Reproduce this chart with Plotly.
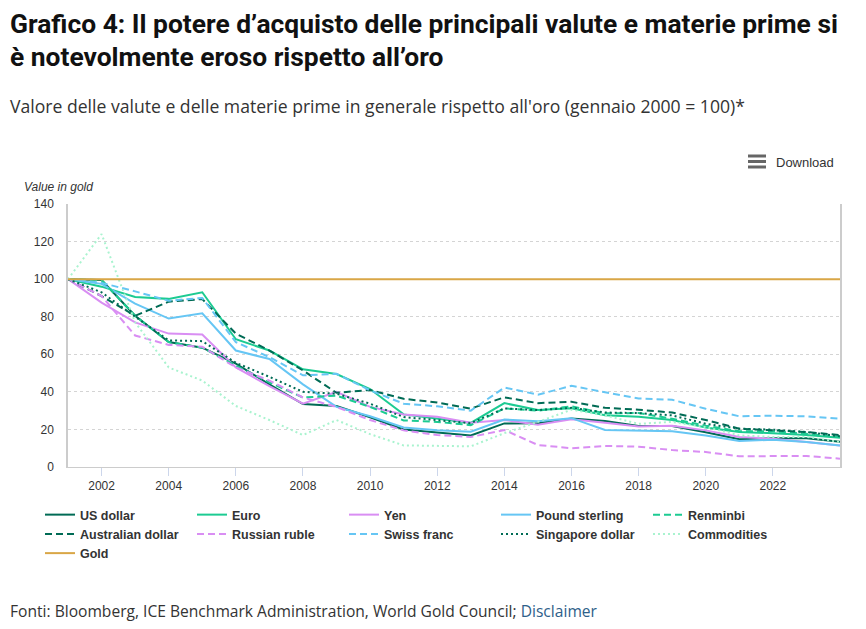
import plotly.graph_objects as go

years = list(range(2001, 2025))
x_ticks = [2002, 2004, 2006, 2008, 2010, 2012, 2014, 2016, 2018, 2020, 2022]
y_ticks = [0, 20, 40, 60, 80, 100, 120, 140]

us_dollar = [100, 99.5, 80.5, 66.5, 63.5, 55, 44, 33.5, 32.5, 26.5, 20, 18.3, 16.8, 23.2, 23.3, 25.8, 24.5, 21.8, 21.8, 18.5, 14.8, 15.3, 15.3, 13.5]
euro = [100, 96, 90.5, 89.5, 93, 68, 62, 52, 49.5, 41.5, 28, 25.7, 23.5, 34, 30.3, 31.3, 27.6, 26.7, 25, 21, 18.6, 18, 17, 15.6]
yen = [100, 87.5, 77, 71, 70.5, 53, 43, 33.7, 40, 32, 28, 26.8, 23.5, 25, 22.5, 25.4, 23.5, 21.5, 22, 19.5, 16, 15, 13.3, 11.5]
pound_sterling = [100, 97.5, 87, 79, 81.8, 62, 57.5, 44, 32, 27, 21, 19.5, 18.8, 25.3, 24.3, 26, 19.7, 19.5, 19, 16.8, 13.8, 14.5, 13.3, 11.5]
renminbi = [100, 99.5, 80.5, 66.5, 63.5, 54, 45, 37, 38, 32, 24.8, 24, 22.3, 31.2, 30, 32.3, 28.6, 28.7, 25.7, 22, 19, 19, 17.7, 16]
australian_dollar = [100, 91, 80.5, 88, 89.4, 71, 62, 51.4, 39.5, 41, 36.3, 34.3, 31.1, 37.1, 34, 34.7, 31.5, 30.5, 29, 25, 20.4, 19.5, 18.6, 17]
russian_ruble = [100, 91, 70, 65, 64, 53, 46, 37, 32, 25, 19.5, 17, 16, 19.7, 11.7, 10, 11.2, 10.8, 9, 8, 5.7, 5.9, 5.9, 4.4]
swiss_franc = [100, 98, 93.5, 88.5, 90, 66.5, 58.5, 48.8, 49.6, 40.8, 33.7, 32.3, 30, 42.3, 38.5, 43.2, 39.8, 36.5, 35.8, 31, 27, 27.3, 27, 25.7]
singapore_dollar = [100, 93, 80, 67.4, 67, 55.5, 48, 40, 39, 33.7, 26.6, 25, 23.3, 31.2, 30.3, 31.5, 29, 28.7, 27.5, 23, 20.4, 19.9, 18.6, 16.3]
commodities = [100, 124, 77, 53, 46, 32.5, 25, 17, 25, 17.5, 11.5, 11.2, 11, 18, 24, 30.5, 27.5, 23, 24, 21.3, 16.8, 16, 16, 13.3]
gold = [100] * 24

DARK = "#006b55"
BRIGHT = "#1ccb92"
VIOLET = "#d98ef3"
LBLUE = "#66c6f4"
PALE = "#a9f3cf"
GOLD = "#d9a646"

series = [
    ("US dollar", us_dollar, DARK, "solid"),
    ("Euro", euro, BRIGHT, "solid"),
    ("Yen", yen, VIOLET, "solid"),
    ("Pound sterling", pound_sterling, LBLUE, "solid"),
    ("Renminbi", renminbi, BRIGHT, "dash"),
    ("Australian dollar", australian_dollar, DARK, "dash"),
    ("Russian ruble", russian_ruble, VIOLET, "dash"),
    ("Swiss franc", swiss_franc, LBLUE, "dash"),
    ("Singapore dollar", singapore_dollar, DARK, "dot"),
    ("Commodities", commodities, PALE, "dot"),
    ("Gold", gold, GOLD, "solid"),
]

fig = go.Figure()
for name, vals, color, dash in series:
    d = {"solid": "solid", "dash": "7px,4px", "dot": "2px,3px"}[dash]
    fig.add_trace(go.Scatter(x=years, y=vals, name=name, mode="lines",
                             line=dict(color=color, width=2, dash=d)))

# page body has an 8px margin; size the figure so it fills the 866x629 window
O = 8
W, H = 866 - O, 629 - O
L, R, T, B = 68 - O, 26, 204 - O, 162
pw = W - L - R
ph = H - T - B

def px(x):  # screen pixel x -> paper x
    return (x - O - L) / pw

def py(y):  # screen pixel y -> paper y
    return (H - B - (y - O)) / ph

fig.update_layout(
    width=W, height=H,
    margin=dict(l=L, r=R, t=T, b=B),
    paper_bgcolor="white", plot_bgcolor="white",
    font=dict(family="Liberation Sans, Arial, sans-serif", size=12, color="#333333"),
    showlegend=True,
    legend=dict(orientation="h", x=px(40), y=py(500), xanchor="left", yanchor="top",
                entrywidth=107, entrywidthmode="pixels", traceorder="normal",
                font=dict(family="Liberation Sans, Arial, sans-serif", size=12.5, color="#333333", weight="bold"),
                tracegroupgap=0, itemclick=False),
    xaxis=dict(range=[2001, 2024], tickvals=x_ticks, showgrid=False,
               showline=True, linecolor="#cccccc", linewidth=1,
               ticks="outside", ticklen=8, tickcolor="#ccd6eb", tickwidth=1,
               tickfont=dict(size=12, color="#333333"), zeroline=False),
    yaxis=dict(range=[0, 140], tickvals=y_ticks, showgrid=True, gridcolor="#d4d4d4",
               griddash="dot", gridwidth=1, showline=True, linecolor="#cccccc", linewidth=1.5,
               mirror=True, ticks="", ticklabelstandoff=10, zeroline=False,
               tickfont=dict(size=12, color="#333333")),
)

ann = []
title_font = dict(family="Liberation Sans Narrow, Roboto, sans-serif", size=26.4, color="#111111", weight="bold")
ann.append(dict(text="Grafico 4: Il potere d’acquisto delle principali valute e materie prime si",
                x=px(8), y=py(24), xanchor="left", yanchor="middle", font=title_font))
ann.append(dict(text="è notevolmente eroso rispetto all’oro",
                x=px(8), y=py(57), xanchor="left", yanchor="middle", font=title_font))
ann.append(dict(text="Valore delle valute e delle materie prime in generale rispetto all'oro (gennaio 2000 = 100)*",
                x=px(8), y=py(106), xanchor="left", yanchor="middle",
                font=dict(family="Open Sans, sans-serif", size=17.6, color="#333333")))
ann.append(dict(text="Value in gold", x=px(22), y=py(187), xanchor="left", yanchor="middle",
                font=dict(family="Liberation Sans, Arial, sans-serif", size=12, color="#333333", style="italic")))
ann.append(dict(text="Download", x=px(774), y=py(162), xanchor="left", yanchor="middle",
                font=dict(family="Liberation Sans, Arial, sans-serif", size=13, color="#333333")))
ann.append(dict(text="Fonti: Bloomberg, ICE Benchmark Administration, World Gold Council; <span style='color:#2e6089'>Disclaimer</span>",
                x=px(8), y=py(611), xanchor="left", yanchor="middle",
                font=dict(family="Open Sans, sans-serif", size=15.6, color="#333333")))
for a in ann:
    a.update(xref="paper", yref="paper", showarrow=False)
fig.update_layout(annotations=ann)

shapes = []
for yy in (156, 161.5, 167):
    shapes.append(dict(type="line", xref="paper", yref="paper", x0=px(748), x1=px(766),
                       y0=py(yy), y1=py(yy), line=dict(color="#666666", width=3)))
fig.update_layout(shapes=shapes)

fig.write_html("out.html")
